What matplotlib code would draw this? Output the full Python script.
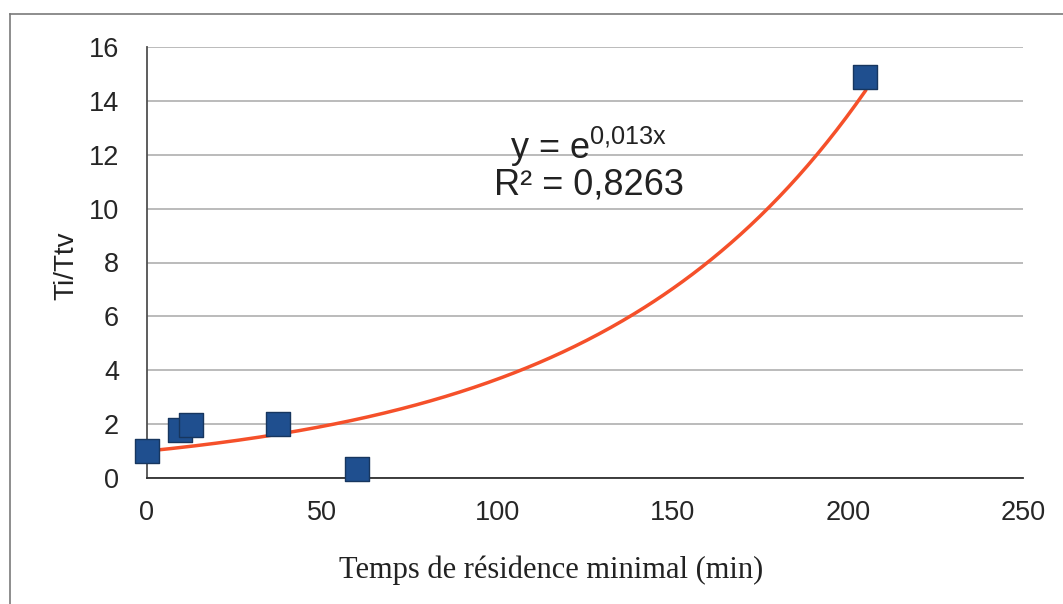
import numpy as np
import matplotlib
matplotlib.use("Agg")
import matplotlib.pyplot as plt
from matplotlib.lines import Line2D

# Data
temps = [0, 9.5, 12.5, 37.5, 60, 205]
ratio = [1.0, 1.8, 1.97, 2.0, 0.33, 14.9]
coef = 0.013
x_ticks = [0, 50, 100, 150, 200, 250]
y_ticks = [0, 2, 4, 6, 8, 10, 12, 14, 16]

plt.rcParams['font.family'] = ['Liberation Sans', 'DejaVu Sans']
plt.rcParams['mathtext.fontset'] = 'custom'
plt.rcParams['mathtext.rm'] = 'Liberation Sans'
plt.rcParams['mathtext.it'] = 'Liberation Sans'

W, H = 1063, 604
fig = plt.figure(figsize=(W/100, H/100), dpi=100)
fig.patch.set_facecolor('white')
# partial frame (top and left) as in the reference
fig.add_artist(Line2D([9.5/W, 9.5/W], [0, 1 - 14/H], transform=fig.transFigure,
                      color='#7a7a7a', linewidth=1.2))
fig.add_artist(Line2D([9.5/W, 1], [1 - 14/H, 1 - 14/H], transform=fig.transFigure,
                      color='#7a7a7a', linewidth=1.2))

ax = fig.add_axes([147/W, 1 - 478/H, (1023-147)/W, (478-47)/H])
ax.set_xlim(0, 250)
ax.set_ylim(0, 16)
ax.set_xticks(x_ticks)
ax.set_yticks(y_ticks)
ax.grid(axis='y', color='#a8a8a8', linewidth=1.1)
ax.set_axisbelow(True)
for s in ['top', 'right']:
    ax.spines[s].set_visible(False)
ax.spines['left'].set_color('#505050')
ax.spines['bottom'].set_color('#303030')
ax.spines['left'].set_linewidth(1.3)
ax.spines['bottom'].set_linewidth(1.3)
ax.tick_params(axis='both', length=0, labelsize=19.5, colors='#262626')
ax.tick_params(axis='y', pad=20)
ax.tick_params(axis='x', pad=16)

xf = np.linspace(0, max(temps), 300)
ax.plot(xf, np.exp(coef * xf), color='#f5502a', linewidth=2.5, zorder=3)
ax.scatter(temps, ratio, marker='s', s=285, color='#1f4f8f', edgecolor='#17365f',
           linewidth=1.0, zorder=4, clip_on=False)

ax.text(126, 12.3, r'y = e$^{\mathregular{0{,}013x}}$', fontsize=26, ha='center', va='center', color='#222222')
ax.text(126, 10.88, 'R² = 0,8263', fontsize=26, ha='center', va='center', color='#222222')

fig.text(66/W, 1 - 266/H, 'Ti/Ttv', fontsize=20, rotation=90, ha='center', va='center', color='#222222')
fig.text(551/W, 1 - 570/H, 'Temps de résidence minimal (min)', fontsize=22, family='Liberation Serif',
         color='#222222', ha='center', va='center')

fig.savefig('out.png', dpi=100)
